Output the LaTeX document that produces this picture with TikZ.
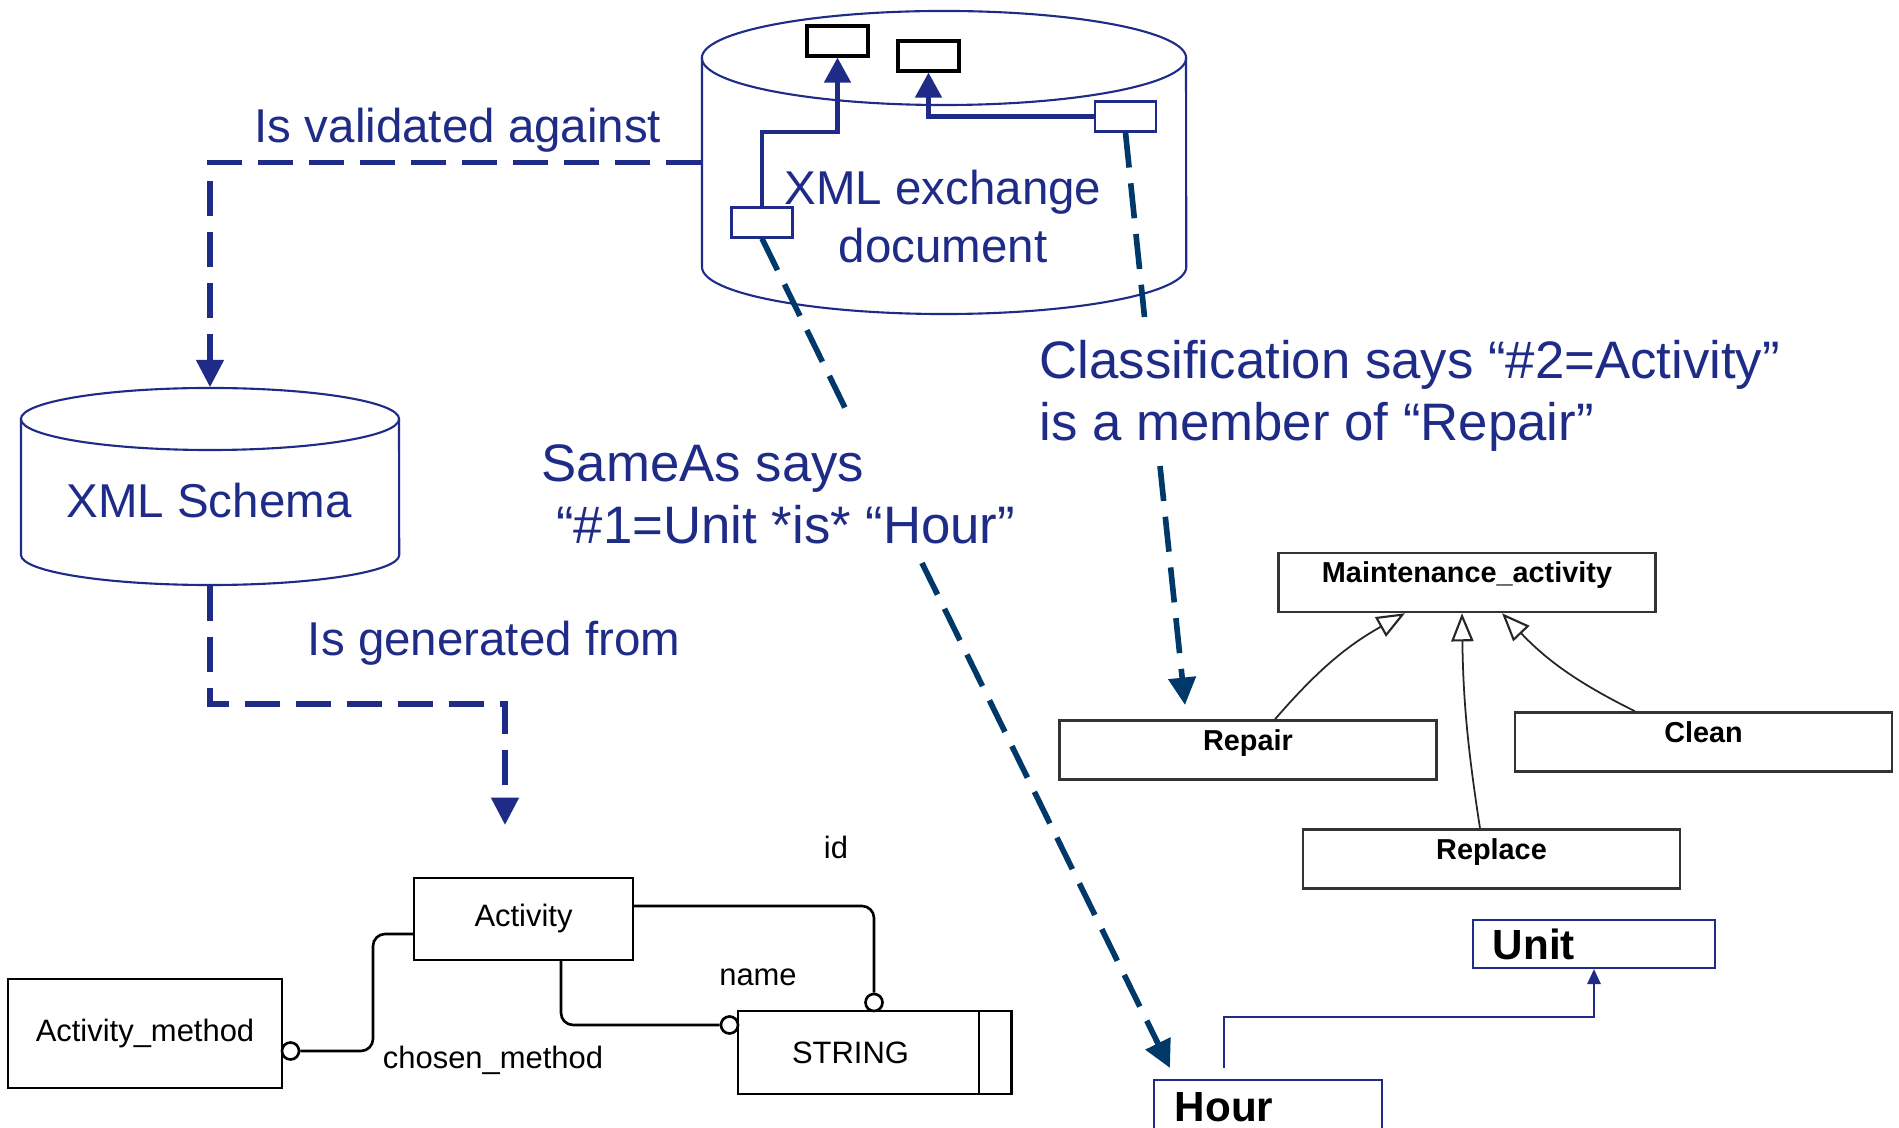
\documentclass[tikz,border=0pt]{standalone}
\usepackage{fontspec}
\setmainfont{Liberation Sans}
\usetikzlibrary{arrows.meta}
\definecolor{navy}{RGB}{31,44,135}
\definecolor{tealx}{RGB}{0,56,105}
\begin{document}
\begin{tikzpicture}[x=0.01cm,y=-0.01cm,
  bluetext/.style={text=navy,font=\fontsize{13.5}{16.5}\selectfont,inner sep=0pt},
  bigtext/.style={text=navy,font=\fontsize{15}{17.8}\selectfont,inner sep=0pt,align=left},
  cylbox/.style={rectangle,inner sep=0pt,draw=none},
  cylline/.style={draw=navy,line width=0.6pt},
  smallbox/.style={rectangle,inner sep=0pt,minimum width=0.61cm,minimum height=0.30cm,fill=white},
  solidarrow/.style={draw=navy,line width=1.3pt,-{Triangle[width=7.4pt,length=7.1pt]}},
  bigtip/.style={-{Triangle[width=7.6pt,length=7.8pt]}},
  navydash/.style={draw=navy,line width=1.6pt,dash pattern=on 10pt off 4.5pt},
  tealdash/.style={draw=tealx,line width=1.6pt,dash pattern=on 10pt off 4.5pt},
  classbox/.style={rectangle,draw=black!80,line width=0.7pt,inner sep=0pt,minimum width=3.77cm,text height=0.3cm,text depth=0.29cm,font=\fontsize{8.2}{9.6}\selectfont\bfseries},
  genarrow/.style={draw=black!85,line width=0.5pt,-{Triangle[width=6.3pt,length=8pt,fill=white,line width=0.6pt]}},
  ubox/.style={rectangle,draw=navy,line width=0.6pt,inner ysep=0pt,align=left,font=\fontsize{12}{14}\selectfont\bfseries},
  erbox/.style={rectangle,draw=black,line width=0.8pt,inner sep=0pt,outer sep=0pt,font=\fontsize{8.8}{10.5}\selectfont},
  erline/.style={draw=black,line width=0.75pt,rounded corners=0.12cm},
  ercirc/.style={circle,draw=black,line width=0.75pt,fill=white,inner sep=0pt,minimum size=0.17cm},
  erlabel/.style={font=\fontsize{8.8}{10.5}\selectfont,inner sep=0pt}
]
\useasboundingbox[fill=white] (0,0) rectangle (1899,1128);

% ---------- XML exchange document cylinder
\node[cylbox,minimum width=4.84cm,minimum height=3.01cm] (xdoc) at (944,162.5) {};
\draw[cylline,fill=white] (702,58) -- (702,267) arc[start angle=180,end angle=360,x radius=2.42cm,y radius=0.47cm] -- (1186,58);
\draw[cylline] (944,58) ellipse[x radius=2.42cm,y radius=0.47cm];
\node[bluetext,align=center] (xdoctext) at (943,217) {XML exchange\\document};

\node[smallbox,draw=black,line width=0.9pt] (r1) at (837.5,41) {};
\node[smallbox,draw=black,line width=0.9pt] (r2) at (928.5,56) {};
\node[smallbox,draw=navy,line width=0.6pt] (r3) at (1125.5,116.5) {};
\node[smallbox,draw=navy,line width=0.6pt] (r4) at (762,222.5) {};
\draw[solidarrow] (r4.north) -- (762,132) -| (r1.south);
\draw[solidarrow] (r3.west) -| (r2.south);

% ---------- XML Schema cylinder
\node[cylbox,minimum width=3.78cm,minimum height=1.97cm] (xsch) at (210,486.5) {};
\draw[cylline,fill=white] (21,419) -- (21,555) arc[start angle=180,end angle=360,x radius=1.89cm,y radius=0.30cm] -- (399,419);
\draw[cylline] (210,419) ellipse[x radius=1.89cm,y radius=0.31cm];
\node[bluetext,anchor=base] (xschtext) at (209,518) {XML Schema};

% ---------- validated / generated
\draw[navydash,bigtip] (xdoc.west) -| (xsch.north);
\node[bluetext,anchor=base] (lval) at (458,143) {Is validated against};
\coordinate (gentip) at (505,825);
\draw[navydash,bigtip] (xsch.south) -- (210,704) -| (gentip);
\node[bluetext,anchor=base] (lgen) at (494,656) {Is generated from};

% ---------- SameAs / Classification
\node[bigtext,anchor=base west] (lsame) at (541,544) {SameAs says\\\ “\#1=Unit *is* “Hour”};
\node[bigtext,anchor=base west] (lclass) at (1039,441) {Classification says “\#2=Activity”\\is a member of “Repair”};

\coordinate (sameA) at (850,418);
\coordinate (sameB) at (922,563);
\coordinate (sametip) at (1170,1068);
\draw[tealdash] (r4.south) -- (sameA);
\draw[tealdash,bigtip] (sameB) -- (sametip);
\coordinate (clA) at (1144.5,317);
\coordinate (clB) at (1160,466);
\coordinate (cltip) at (1185,705);
\draw[tealdash] (r3.south) -- (clA);
\draw[tealdash,bigtip] (clB) -- (cltip);

% ---------- class hierarchy
\node[classbox] (maint) at (1467,582.5) {Maintenance\_activity};
\node[classbox] (repair) at (1248,750) {Repair};
\node[classbox] (clean) at (1703.5,742) {Clean};
\node[classbox] (replace) at (1491.5,859) {Replace};
\draw[genarrow] ([xshift=0.27cm]repair.north) to[bend left=10] ([xshift=-0.62cm]maint.south);
\draw[genarrow] ([xshift=-0.115cm]replace.north) to[bend left=4] ([xshift=-0.05cm]maint.south);
\draw[genarrow] ([xshift=-0.685cm]clean.north) to[bend left=10] ([xshift=0.35cm]maint.south);

% ---------- Unit / Hour
\node[ubox,inner xsep=0.2cm,text width=2.02cm,text height=0.39cm,text depth=0.09cm] (unit) at (1594,944) {Unit};
\node[ubox,inner xsep=0.21cm,text width=1.86cm,text height=0.41cm,text depth=0.2cm] (hour) at (1268,1110.5) {Hour};
\coordinate (hstart) at (1224,1068);
\draw[draw=navy,line width=0.6pt,-{Triangle[width=3.8pt,length=4.3pt]}] (hstart) -- (1224,1017) -| (unit.south);

% ---------- ER diagram
\node[erbox,minimum width=2.19cm,minimum height=0.82cm] (act) at (523.5,919) {Activity};
\node[erbox,minimum width=2.74cm,minimum height=1.09cm] (am) at (145,1033.5) {Activity\_method};
\node[erbox,minimum width=2.41cm,minimum height=0.83cm] (strm) at (858.5,1052.5) {STRING\kern0.16cm};
\node[erbox,minimum width=0.32cm,minimum height=0.83cm,anchor=west] (stre) at (strm.east) {};

\node[ercirc] (c1) at (290.5,1051) {};
\node[ercirc] (c2) at (729.5,1025) {};
\node[ercirc] (c3) at (874,1002.5) {};
\coordinate (h934) at (0,934);
\coordinate (h906) at (0,906);
\coordinate (v561) at (561,0);
\draw[erline] (act.west |- h934) -| (373,1051) -- (c1.east);
\draw[erline] (act.south -| v561) |- (c2.west);
\draw[erline] (act.east |- h906) -| (c3.north);

\node[erlabel] (lid) at (836,847) {id};
\node[erlabel] (lname) at (758,977) {name};
\node[erlabel] (lchosen) at (493,1060) {chosen\_method};
\end{tikzpicture}
\end{document}
